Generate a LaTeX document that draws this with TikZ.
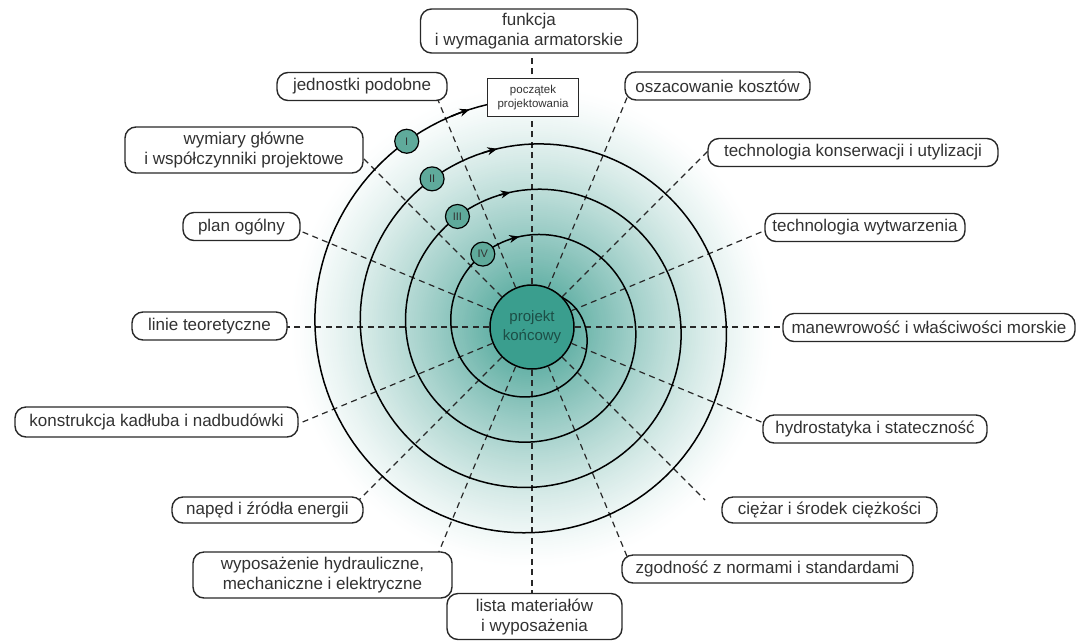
\documentclass[tikz,border=0pt]{standalone}
\usepackage{fontspec}
\setmainfont{Liberation Sans}
\usetikzlibrary{arrows.meta,calc}

\definecolor{tealbase}{RGB}{38,145,130}
\definecolor{corefill}{RGB}{58,158,142}
\definecolor{coretext}{RGB}{28,78,70}
\definecolor{markfill}{RGB}{95,170,155}
\definecolor{ink}{RGB}{40,40,40}
\definecolor{labeltext}{RGB}{50,50,50}

% spiral radius as a function of the polar angle (degrees)
\newcommand{\spr}[1]{(239.68-0.126*(#1))}

\begin{document}
\begin{tikzpicture}[x=1pt,y=-1pt,
  topic/.style={draw=ink, line width=1.4pt, rounded corners=11pt, fill=white,
    text=labeltext, font=\fontsize{17}{20}\selectfont, align=center,
    minimum height=28pt, inner sep=0pt},
  ray/.style={draw=ink, line width=1.2pt, dash pattern=on 6pt off 4.5pt},
  coil/.style={draw=black, line width=1.5pt},
  turnmark/.style={circle, draw=black, line width=1.2pt, fill=markfill,
    minimum size=24pt, inner sep=0pt, font=\fontsize{11}{13}\selectfont, text=black!80},
  tip/.style={-{Stealth[length=10pt,width=8pt]}},
]
\useasboundingbox (0,0) rectangle (1076,641);

% soft radial glow behind the spiral
\foreach \i in {0,...,104} {
  \pgfmathsetmacro\rr{250-2*\i}
  \pgfmathsetmacro\pp{max(0,min(100,90*(max(0,1-\rr/242))^1.3))}
  \fill[tealbase!\pp!white] (532,327) circle (\rr pt);
}

% final design in the middle
\node[circle, draw=black, line width=1.5pt, fill=corefill, minimum size=84pt,
  inner sep=0pt, align=center, font=\fontsize{15}{19}\selectfont, text=coretext]
  (core) at (532,327) {projekt\\końcowy};

% ends of the radial spokes (inside the topic boxes)
\foreach \nm/\a/\t in {e90/90/290, e112/112.5/255, e67/67.5/255, e135/135/250,
    e45/45/262, e157/157.5/262, e22/22.5/262, e180/180/270, e0/0/280,
    e202/202.5/265, e337/337.5/265, e225/225/260, e315/315/244.7,
    e247/247.5/255, e292/292.5/258, e270/270/280}
  \coordinate (\nm) at ({532+\t*cos(\a)},{327-\t*sin(\a)});

% dashed spokes
\foreach \nm in {e90,e112,e67,e135,e45,e157,e22,e180,e0,e202,e337,e225,e315,e247,e292,e270}
  \draw[ray] (core) -- (\nm);

% the design spiral
\draw[coil] plot[domain=101:1400, samples=500, variable=\t]
    ({532+\spr{\t}*cos(\t)},{327-\spr{\t}*sin(\t)})
  -- plot[domain=1400:1485, samples=40, variable=\t]
    ({532+(63.3-0.25*(\t-1400))*cos(\t)},{327-(63.3-0.25*(\t-1400))*sin(\t)});

% direction arrows, one per turn
\foreach \ta in {106,461,819,1178}
  \draw[coil,tip] plot[domain=\ta+5:\ta, samples=4, variable=\t]
    ({532+\spr{\t}*cos(\t)},{327-\spr{\t}*sin(\t)});

% turn markers
\foreach \nm/\a/\lbl in {mI/124/I, mII/484/II, mIII/844/III, mIV/1204/IV}
  \node[turnmark] (\nm) at ({532+\spr{\a}*cos(\a)},{327-\spr{\a}*sin(\a)}) {\lbl};

% start of the design process
\node[draw=ink, line width=1.2pt, fill=white, text=labeltext,
  font=\fontsize{11.5}{14}\selectfont, align=center, minimum width=91pt,
  minimum height=38pt, inner sep=0pt] (start) at (533,97.5) {początek\\projektowania};

% design topics around the spiral
\node[topic, minimum width=217pt, minimum height=44pt] (funkcja) at (529,31) {funkcja\\i wymagania armatorskie};
\node[topic, minimum width=170pt] (podobne) at (362,86.5) {jednostki podobne};
\node[topic, minimum width=185pt] (koszty) at (717.5,86) {oszacowanie kosztów};
\node[topic, minimum width=238pt, minimum height=46pt] (wymiary) at (244,150) {wymiary główne\\i współczynniki projektowe};
\node[topic, minimum width=290pt] (konserwacja) at (853,152.5) {technologia konserwacji i utylizacji};
\node[topic, minimum width=117pt] (plan) at (241.5,226.5) {plan ogólny};
\node[topic, minimum width=200pt] (wytwarzanie) at (865,227.5) {technologia wytwarzenia};
\node[topic, minimum width=155pt] (linie) at (209.5,326) {linie teoretyczne};
\node[topic, minimum width=292pt] (manewr) at (929,327.5) {manewrowość i właściwości morskie};
\node[topic, minimum width=283pt, minimum height=30pt] (kadlub) at (156.5,422) {konstrukcja kadłuba i nadbudówki};
\node[topic, minimum width=224pt] (hydro) at (875,429) {hydrostatyka i stateczność};
\node[topic, minimum width=191pt, minimum height=26pt] (naped) at (267.5,510) {napęd i źródła energii};
\node[topic, minimum width=215pt, minimum height=26pt] (ciezar) at (829.5,510) {ciężar i środek ciężkości};
\node[topic, minimum width=259pt, minimum height=46pt] (wyposazenie) at (322.5,575) {wyposażenie hydrauliczne,\\mechaniczne i elektryczne};
\node[topic, minimum width=291pt] (normy) at (767.5,569) {zgodność z normami i standardami};
\node[topic, minimum width=175pt, minimum height=46pt] (lista) at (534.5,616.5) {lista materiałów\\i wyposażenia};
\end{tikzpicture}
\end{document}
